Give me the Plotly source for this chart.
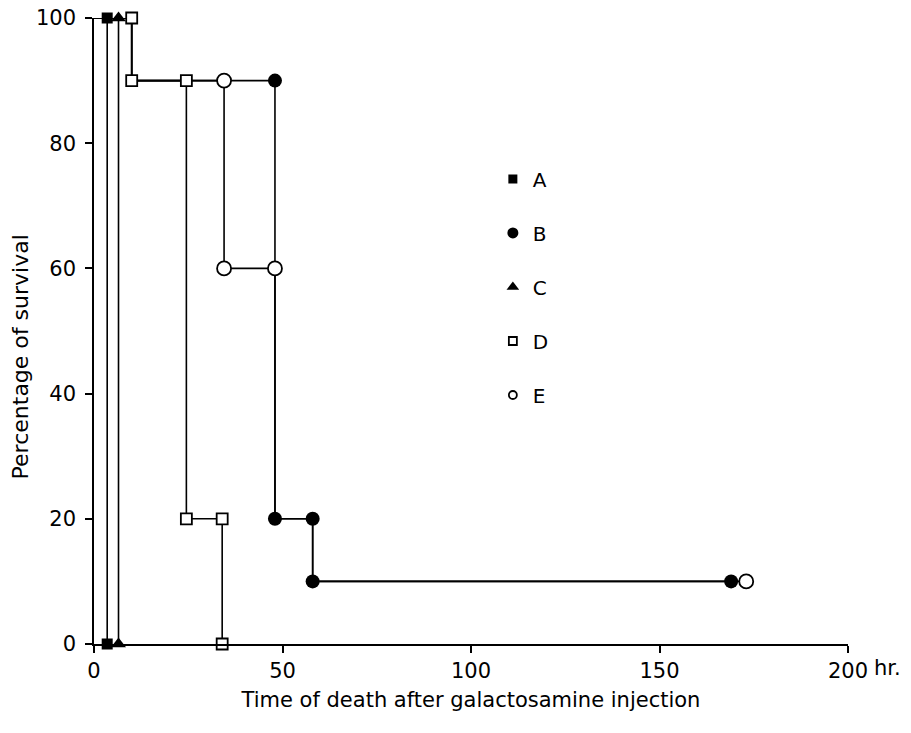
import plotly.graph_objects as go

# ---- data (hours, % survival) ----
# step-path vertices (Kaplan-Meier style, drawn with hv steps)
A_path_t = [0, 3.5]
A_path_s = [100, 0]
B_path_t = [0, 10, 48, 58, 169]
B_path_s = [100, 90, 20, 10, 10]
C_path_t = [0, 6.5]
C_path_s = [100, 0]
D_path_t = [0, 10, 24.5, 34]
D_path_s = [100, 90, 20, 0]
E_path_t = [0, 10, 34.5, 48, 58, 173]
E_path_s = [100, 90, 60, 20, 10, 10]

# plotted symbol positions
A_pts_t = [3.5, 3.5]
A_pts_s = [100, 0]
B_pts_t = [48, 48, 58, 58, 169]
B_pts_s = [90, 20, 20, 10, 10]
C_pts_t = [6.5, 6.5]
C_pts_s = [100, 0]
D_pts_t = [10, 10, 24.5, 24.5, 34, 34]
D_pts_s = [100, 90, 90, 20, 20, 0]
E_pts_t = [34.5, 34.5, 48, 173]
E_pts_s = [90, 60, 60, 10]

series_names = ["A", "B", "C", "D", "E"]
x_tickvals = [0, 50, 100, 150, 200]
x_ticktext = ["0", "50", "100", "150", "200"]
y_tickvals = [0, 20, 40, 60, 80, 100]

FONT = "DejaVu Sans, Liberation Sans, Arial, sans-serif"

paths = [(A_path_t, A_path_s), (B_path_t, B_path_s), (C_path_t, C_path_s),
         (D_path_t, D_path_s), (E_path_t, E_path_s)]
pts = [(A_pts_t, A_pts_s), (B_pts_t, B_pts_s), (C_pts_t, C_pts_s),
       (D_pts_t, D_pts_s), (E_pts_t, E_pts_s)]
symbols = ["square", "circle", "triangle-up", "square", "circle"]
is_open = [False, False, False, True, True]
data_sizes = [11, 14, 13, 11, 14]
legend_sizes = [9, 11, 11, 8, 8]

fig = go.Figure()

for (t, s) in paths:
    fig.add_trace(go.Scatter(x=t, y=s, mode="lines", line_shape="hv",
                             line=dict(color="black", width=1.6),
                             showlegend=False, hoverinfo="skip", cliponaxis=False))

for i, (t, s) in enumerate(pts):
    fig.add_trace(go.Scatter(
        x=t, y=s, mode="markers", showlegend=False, cliponaxis=False,
        marker=dict(symbol=symbols[i], size=data_sizes[i],
                    color="white" if is_open[i] else "black",
                    line=dict(color="black", width=1.8 if is_open[i] else 0))))

# legend-only entries
for i, name in enumerate(series_names):
    fig.add_trace(go.Scatter(
        x=[None], y=[None], mode="markers", name=name, legendgroup=name,
        marker=dict(symbol=symbols[i], size=legend_sizes[i],
                    color="white" if is_open[i] else "black",
                    line=dict(color="black", width=1.8 if is_open[i] else 0))))

fig.add_annotation(x=200, y=0, xref="x", yref="y", text="hr.", showarrow=False,
                   xanchor="left", yanchor="top", xshift=24, yshift=-10,
                   font=dict(family=FONT, size=21, color="black"))

fig.add_annotation(x=-0.098, y=0.458, xref="paper", yref="paper",
                   text="Percentage of survival", showarrow=False, textangle=-90,
                   xanchor="center", yanchor="middle",
                   font=dict(family=FONT, size=22, color="black"))

fig.update_layout(
    width=911, height=733,
    margin=dict(l=94, r=63, t=18, b=89),
    paper_bgcolor="white", plot_bgcolor="white",
    font=dict(family=FONT, size=21, color="black"),
    showlegend=True,
    legend=dict(x=0.529, y=0.774, xanchor="left", yanchor="top",
                tracegroupgap=25, bgcolor="rgba(0,0,0,0)",
                font=dict(family=FONT, size=20, color="black")),
    xaxis=dict(range=[0, 200], tickvals=x_tickvals, ticktext=x_ticktext,
               showgrid=False, zeroline=False, showline=True, linecolor="black",
               linewidth=1.5, ticks="outside", ticklen=7, tickwidth=1.5,
               tickcolor="black", tickfont=dict(family=FONT, size=21),
               automargin=False,
               title=dict(text="Time of death after galactosamine injection",
                          font=dict(family=FONT, size=21), standoff=10)),
    yaxis=dict(range=[0, 100], tickvals=y_tickvals,
               showgrid=False, zeroline=False, showline=True, linecolor="black",
               linewidth=1.5, ticks="outside", ticklen=7, tickwidth=1.5,
               tickcolor="black", tickfont=dict(family=FONT, size=21),
               ticklabelstandoff=5, automargin=False),
)

fig.write_html("out.html")
